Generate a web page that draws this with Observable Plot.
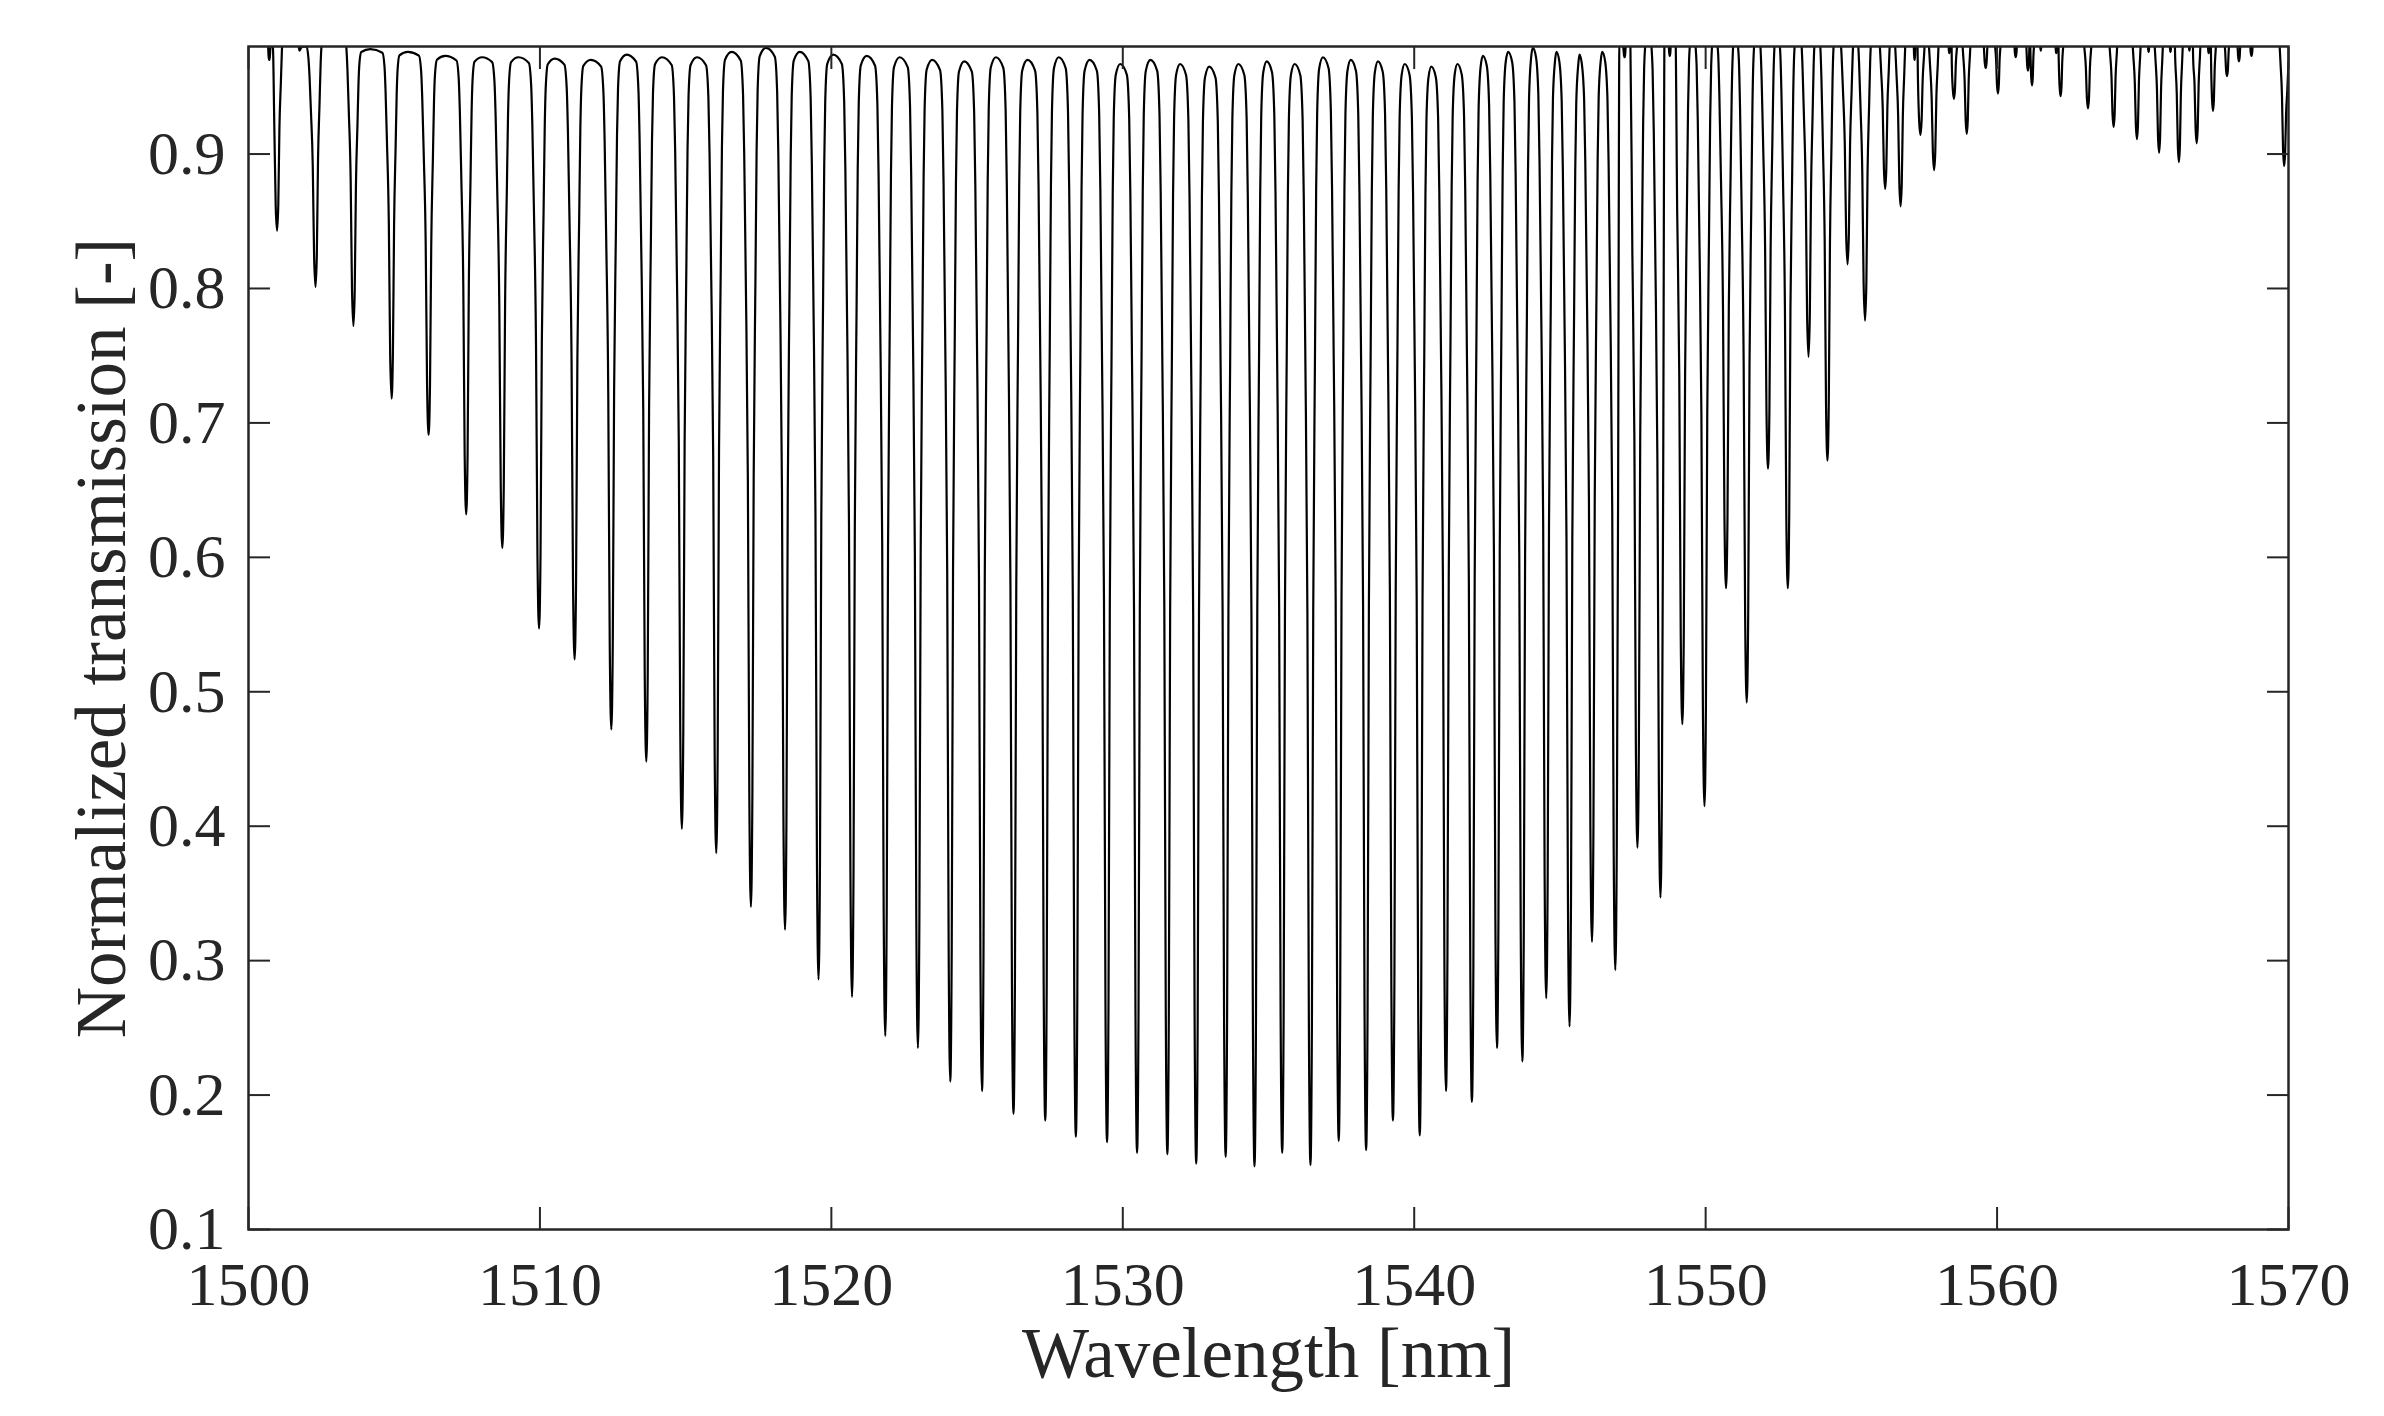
<!DOCTYPE html>
<html>
<head>
<meta charset="utf-8">
<script src="https://cdn.jsdelivr.net/npm/d3@7"></script>
<script src="https://cdn.jsdelivr.net/npm/@observablehq/plot@0.6"></script>
<style>
  html, body { margin: 0; padding: 0; background: #ffffff; }
  #chart { width: 2384px; height: 1416px; }
</style>
</head>
<body>
<div id="chart"></div>
<script>
// ---- data ----
const xLabel = "Wavelength [nm]";
const yLabel = "Normalized transmission [-]";
const xTicks = [1500, 1510, 1520, 1530, 1540, 1550, 1560, 1570];
const yTicks = [0.1, 0.2, 0.3, 0.4, 0.5, 0.6, 0.7, 0.8, 0.9];

// resonance dips: centre wavelength [nm]
const dipCenter = [
  1500.71, 1500.98, 1501.75, 1502.30, 1503.60, 1504.91, 1506.18, 1507.47, 1508.71, 1509.97,
  1511.19, 1512.45, 1513.65, 1514.87, 1516.05, 1517.24, 1518.41, 1519.56, 1520.71, 1521.85,
  1522.97, 1524.08, 1525.17, 1526.25, 1527.34, 1528.39, 1529.46, 1530.49, 1531.53, 1532.52,
  1533.53, 1534.52, 1535.47, 1536.44, 1537.41, 1538.35, 1539.27, 1540.19, 1541.09, 1541.98,
  1542.84, 1543.71, 1544.53, 1545.33, 1546.10, 1546.90, 1547.22, 1547.66, 1548.45, 1548.77,
  1549.20, 1549.96, 1550.70, 1551.41, 1552.14, 1552.82, 1553.53, 1554.18, 1554.87, 1555.47,
  1556.16, 1556.69, 1557.17, 1557.37, 1557.84, 1558.36, 1558.52, 1558.96, 1559.61, 1560.03,
  1560.64, 1561.06, 1561.20, 1561.50, 1562.03, 1562.18, 1563.12, 1564.00, 1564.80, 1565.20,
  1565.56, 1565.95, 1566.24, 1566.60, 1566.85, 1567.26, 1567.41, 1567.89, 1568.30, 1568.73,
  1569.85
];
// transmission at the bottom of each dip
const dipMin = [
  0.970, 0.843, 0.977, 0.801, 0.772, 0.718, 0.691, 0.632, 0.607, 0.547,
  0.524, 0.472, 0.448, 0.398, 0.380, 0.340, 0.323, 0.286, 0.273, 0.244,
  0.235, 0.210, 0.203, 0.186, 0.181, 0.169, 0.165, 0.157, 0.156, 0.149,
  0.154, 0.147, 0.157, 0.148, 0.166, 0.159, 0.181, 0.170, 0.203, 0.195,
  0.235, 0.225, 0.272, 0.251, 0.314, 0.293, 0.972, 0.384, 0.347, 0.973,
  0.476, 0.415, 0.577, 0.492, 0.666, 0.577, 0.749, 0.672, 0.818, 0.776,
  0.874, 0.861, 0.970, 0.914, 0.888, 0.975, 0.941, 0.915, 0.964, 0.945,
  0.972, 0.962, 0.951, 0.977, 0.975, 0.943, 0.934, 0.920, 0.911, 0.976,
  0.901, 0.976, 0.894, 0.977, 0.908, 0.975, 0.932, 0.958, 0.969, 0.973,
  0.891
];
// half width at half depth of each dip [nm]
const dipWidth = [
  0.04, 0.085, 0.04, 0.09, 0.09, 0.09, 0.095, 0.095, 0.1, 0.1,
  0.1, 0.1, 0.1, 0.1, 0.1, 0.1, 0.1, 0.1, 0.1, 0.1,
  0.1, 0.1, 0.1, 0.1, 0.1, 0.1, 0.1, 0.1, 0.1, 0.1,
  0.1, 0.1, 0.1, 0.1, 0.1, 0.1, 0.1, 0.1, 0.1, 0.1,
  0.1, 0.1, 0.1, 0.1, 0.1, 0.1, 0.04, 0.1, 0.1, 0.04,
  0.1, 0.1, 0.1, 0.1, 0.095, 0.095, 0.09, 0.09, 0.09, 0.09,
  0.08, 0.08, 0.03, 0.08, 0.08, 0.03, 0.07, 0.07, 0.06, 0.06,
  0.05, 0.05, 0.05, 0.03, 0.03, 0.06, 0.07, 0.07, 0.07, 0.03,
  0.07, 0.03, 0.07, 0.03, 0.07, 0.03, 0.06, 0.06, 0.05, 0.05,
  0.07
];
// transmission at the top of each arch (before the first dip, between dips, after the last dip)
const archTop = [
  0.995, 0.985, 0.995, 0.980, 0.990, 0.978, 0.976, 0.973, 0.972, 0.972,
  0.971, 0.970, 0.974, 0.972, 0.972, 0.976, 0.979, 0.976, 0.974, 0.973,
  0.972, 0.970, 0.969, 0.972, 0.970, 0.972, 0.970, 0.967, 0.970, 0.967,
  0.965, 0.967, 0.969, 0.967, 0.972, 0.970, 0.969, 0.967, 0.965, 0.967,
  0.973, 0.976, 0.979, 0.976, 0.974, 0.976, 0.985, 0.990, 0.995, 0.995,
  0.995, 0.995, 0.995, 0.995, 0.995, 0.995, 0.995, 0.995, 0.995, 0.995,
  0.995, 0.995, 0.995, 0.995, 0.995, 0.995, 0.995, 0.995, 0.995, 0.995,
  0.995, 0.995, 0.995, 0.995, 0.995, 0.995, 0.995, 0.995, 0.995, 0.995,
  0.995, 0.995, 0.995, 0.995, 0.995, 0.995, 0.995, 0.995, 0.995, 0.995,
  0.995, 0.968
];
// flank shape of a dip (offset in half-widths, fraction of depth)
const leftOffsets  = [0.55, 1.05, 1.75, 2.3, 2.7, 3.5];
const rightOffsets = [0.5, 0.95, 1.55, 1.95, 2.3, 3.0];
const flankFractions = [0.87, 0.5, 0.27, 0.12, 0.05, 0.01];
const archPosition = 0.44;
const xStart = 1500, xEnd = 1570;

// ---- build the trace from the read values ----
const points = [{x: xStart, y: archTop[0]}];
const N = dipCenter.length;
for (let i = 0; i < N; i++) {
  const c = dipCenter[i], m = dipMin[i], w = dipWidth[i];
  const leftRoom = i === 0 ? c - xStart : (c - dipCenter[i - 1]) * (1 - archPosition);
  const rightRoom = i === N - 1 ? xEnd - c : (dipCenter[i + 1] - c) * archPosition;
  const tL = archTop[i], tR = archTop[i + 1];
  for (let k = leftOffsets.length - 1; k >= 0; k--) {
    const o = leftOffsets[k] * w;
    if (o < leftRoom * 0.9) points.push({x: c - o, y: tL - flankFractions[k] * (tL - m)});
  }
  points.push({x: c, y: m});
  for (let k = 0; k < rightOffsets.length; k++) {
    const o = rightOffsets[k] * w;
    if (o < rightRoom * 0.9) points.push({x: c + o, y: tR - flankFractions[k] * (tR - m)});
  }
  if (i < N - 1) points.push({x: c + rightRoom, y: tR});
}
points.push({x: xEnd, y: archTop[N]});

const axisColor = "#262626";
const font = "'Liberation Serif', 'Times New Roman', 'DejaVu Serif', serif";

const chart = Plot.plot({
  width: 2384,
  height: 1416,
  marginLeft: 248,
  marginRight: 96,
  marginTop: 46,
  marginBottom: 187,
  style: {fontFamily: font, background: "#ffffff", color: axisColor, overflow: "visible"},
  x: {domain: [xStart, xEnd]},
  y: {domain: [0.1, 0.98]},
  marks: [
    Plot.line(points, {x: "x", y: "y", stroke: "#000000", strokeWidth: 2.2, curve: "monotone-x", clip: true}),
    Plot.frame({stroke: axisColor, strokeWidth: 2.5}),
    Plot.axisX(xTicks, {anchor: "bottom", tickSize: 0, tickPadding: 31, fontSize: 62, label: null, tickFormat: d => String(d)}),
    Plot.axisX(xTicks, {anchor: "bottom", tickSize: -22, fill: "none", strokeWidth: 2, label: null}),
    Plot.axisX(xTicks, {anchor: "top", tickSize: -22, fill: "none", strokeWidth: 2, label: null}),
    Plot.axisY(yTicks, {anchor: "left", tickSize: 0, tickPadding: 23, fontSize: 62, label: null, tickFormat: d3.format(".1f")}),
    Plot.axisY(yTicks, {anchor: "left", tickSize: -22, fill: "none", strokeWidth: 2, label: null}),
    Plot.axisY(yTicks, {anchor: "right", tickSize: -22, fill: "none", strokeWidth: 2, label: null}),
    Plot.text([xLabel], {text: d => d, frameAnchor: "bottom", dy: 125, fontSize: 71, fill: axisColor, textAnchor: "middle", lineAnchor: "middle"}),
    Plot.text([yLabel], {text: d => d, frameAnchor: "left", dx: -146, rotate: -90, fontSize: 71, fill: axisColor, textAnchor: "middle", lineAnchor: "middle"})
  ]
});
document.getElementById("chart").appendChild(chart);
</script>
</body>
</html>
